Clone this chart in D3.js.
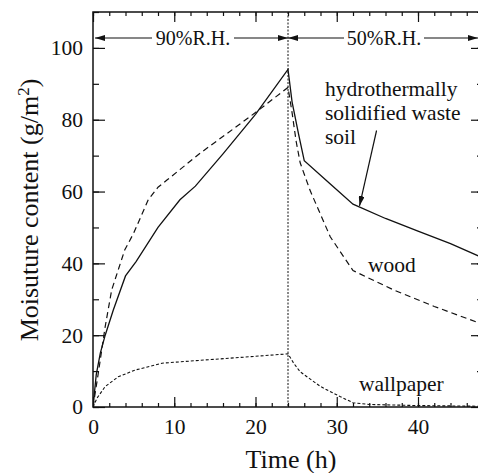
<!DOCTYPE html>
<html>
<head>
<meta charset="utf-8">
<script src="https://cdn.jsdelivr.net/npm/d3@7"></script>
<style>
body { margin: 0; background: #fff; }
text { font-family: "Liberation Serif", "Times New Roman", serif; fill: #111; }
</style>
</head>
<body>
<script>
// data (time in h, moisture in g/m2)
var soilTime  = [0, 0.4, 0.9, 1.5, 2.5, 4, 5.3, 8, 10.7, 12.6, 16, 20, 24, 24.5, 25.3, 26, 29, 32, 36, 40, 44, 48];
var soilValue = [0, 9, 15, 20, 27, 36.5, 40.5, 50, 57.7, 61.5, 70.5, 81.5, 94, 85, 76, 68.6, 62.5, 56.5, 52.5, 49, 45.5, 41.5];

var woodTime  = [0, 0.65, 1.5, 2.3, 3.9, 5, 6.8, 8, 9.1, 13.2, 17.3, 20, 24, 24.5, 25, 25.5, 26.7, 29.2, 32, 37, 42, 48];
var woodValue = [0, 9.4, 22.4, 32.6, 43.7, 48.4, 57.7, 61.2, 63.2, 70.7, 77.5, 82, 89, 82, 74, 68, 60.4, 47.4, 38, 32.6, 28, 23];

var paperTime  = [0, 0.5, 1.5, 3.1, 5.2, 8.5, 13.8, 18.1, 24, 24.7, 25.5, 28, 30.4, 32, 34, 40, 48];
var paperValue = [0, 2.5, 5.7, 8.4, 10.3, 12.2, 13.1, 13.8, 14.8, 12.2, 9.8, 5.7, 2.9, 1.2, 0.7, 0.4, 0.2];

var xMajorTicks = [0, 10, 20, 30, 40];
var yMajorTicks = [0, 20, 40, 60, 80, 100];
var switchTime = 24;

var width = 478, height = 473;
var padLeft = 93, padTop = 12, plotW = 390, plotH = 395;

var svg = d3.select("body").append("svg").attr("width", width).attr("height", height);

var xScale = d3.scaleLinear().domain([0, 48]).range([padLeft, padLeft + plotW]);
var yScale = d3.scaleLinear().domain([0, 110]).range([padTop + plotH, padTop]);

// arrow heads
var defs = svg.append("defs");
defs.append("marker").attr("id", "arr")
  .attr("viewBox", "0 0 10 6").attr("refX", 10).attr("refY", 3)
  .attr("markerWidth", 10).attr("markerHeight", 6).attr("markerUnits", "userSpaceOnUse")
  .attr("orient", "auto")
  .append("path").attr("d", "M0,0 L10,3 L0,6 Z").attr("fill", "#111");

// minor ticks (every 2h / every 10 g/m2) and major ticks, all pointing inward
var xMinor = d3.range(0, 49, 2);
var yMinor = d3.range(0, 111, 10);

svg.append("g").attr("transform", "translate(0," + (padTop + plotH) + ")")
  .call(d3.axisBottom(xScale).tickValues(xMinor).tickSize(-4).tickFormat(""));
svg.append("g").attr("transform", "translate(0," + padTop + ")")
  .call(d3.axisTop(xScale).tickValues(xMinor).tickSize(-4).tickFormat(""));
svg.append("g").attr("transform", "translate(" + padLeft + ",0)")
  .call(d3.axisLeft(yScale).tickValues(yMinor).tickSize(-6).tickFormat(""));
svg.append("g").attr("transform", "translate(" + (padLeft + plotW) + ",0)")
  .call(d3.axisRight(yScale).tickValues(yMinor).tickSize(-6).tickFormat(""));

var xAxis = svg.append("g").attr("transform", "translate(0," + (padTop + plotH) + ")")
  .call(d3.axisBottom(xScale).tickValues(xMajorTicks).tickSize(-10));
svg.append("g").attr("transform", "translate(0," + padTop + ")")
  .call(d3.axisTop(xScale).tickValues(xMajorTicks).tickSize(-10).tickFormat(""));
var yAxis = svg.append("g").attr("transform", "translate(" + padLeft + ",0)")
  .call(d3.axisLeft(yScale).tickValues(yMajorTicks).tickSize(-12));
svg.append("g").attr("transform", "translate(" + (padLeft + plotW) + ",0)")
  .call(d3.axisRight(yScale).tickValues(yMajorTicks).tickSize(-12).tickFormat(""));

svg.selectAll(".domain").remove();
svg.selectAll(".tick line").attr("stroke", "#111").attr("stroke-width", 1.2);
svg.selectAll(".tick text").attr("fill", "#111").style("font-size", "21.5px")
  .style("font-family", "'Liberation Serif', 'Times New Roman', serif");
// labels sit outside the frame, not at the inward tick end
xAxis.selectAll(".tick text").attr("y", 12);
yAxis.selectAll(".tick text").attr("x", -10);

// frame
svg.append("rect").attr("x", padLeft).attr("y", padTop).attr("width", plotW).attr("height", plotH)
  .attr("fill", "none").attr("stroke", "#111").attr("stroke-width", 1.5);

// vertical dotted line at humidity switch
svg.append("line")
  .attr("x1", xScale(switchTime)).attr("x2", xScale(switchTime))
  .attr("y1", padTop).attr("y2", padTop + plotH)
  .attr("stroke", "#111").attr("stroke-width", 1).attr("stroke-dasharray", "2,1.5");

// curves
function series(t, v) { return t.map(function(d, i) { return [d, v[i]]; }); }
var line = d3.line().x(function(d) { return xScale(d[0]); }).y(function(d) { return yScale(d[1]); });

var clip = defs.append("clipPath").attr("id", "plotclip");
clip.append("rect").attr("x", padLeft).attr("y", padTop).attr("width", plotW).attr("height", plotH);

var curves = svg.append("g").attr("clip-path", "url(#plotclip)");
curves.append("path").datum(series(soilTime, soilValue)).attr("d", line)
  .attr("fill", "none").attr("stroke", "#111").attr("stroke-width", 1.3);
curves.append("path").datum(series(woodTime, woodValue)).attr("d", line)
  .attr("fill", "none").attr("stroke", "#111").attr("stroke-width", 1.2).attr("stroke-dasharray", "6,4");
curves.append("path").datum(series(paperTime, paperValue)).attr("d", line)
  .attr("fill", "none").attr("stroke", "#111").attr("stroke-width", 1.1).attr("stroke-dasharray", "3,2");

// R.H. arrows along the top
var arrowY = 38;
svg.append("line").attr("x1", 152).attr("y1", arrowY).attr("x2", xScale(0) + 2).attr("y2", arrowY)
  .attr("stroke", "#111").attr("stroke-width", 1.2).attr("marker-end", "url(#arr)");
svg.append("line").attr("x1", 234).attr("y1", arrowY).attr("x2", xScale(switchTime)).attr("y2", arrowY)
  .attr("stroke", "#111").attr("stroke-width", 1.2).attr("marker-end", "url(#arr)");
svg.append("line").attr("x1", 344).attr("y1", arrowY).attr("x2", xScale(switchTime)).attr("y2", arrowY)
  .attr("stroke", "#111").attr("stroke-width", 1.2).attr("marker-end", "url(#arr)");
svg.append("line").attr("x1", 424).attr("y1", arrowY).attr("x2", 478).attr("y2", arrowY)
  .attr("stroke", "#111").attr("stroke-width", 1.2).attr("marker-end", "url(#arr)");

svg.append("text").attr("x", 193).attr("y", arrowY + 7).attr("text-anchor", "middle")
  .style("font-size", "20px").text("90%R.H.");
svg.append("text").attr("x", 384).attr("y", arrowY + 7).attr("text-anchor", "middle")
  .style("font-size", "20px").text("50%R.H.");

// series labels
var soilLabel = svg.append("text").attr("x", 325).attr("y", 96).style("font-size", "21.5px");
soilLabel.append("tspan").attr("x", 325).attr("dy", 0).text("hydrothermally");
soilLabel.append("tspan").attr("x", 325).attr("dy", 24).text("solidified waste");
soilLabel.append("tspan").attr("x", 325).attr("dy", 24).text("soil");

svg.append("line")
  .attr("x1", xScale(34.9)).attr("y1", yScale(77))
  .attr("x2", xScale(32.8)).attr("y2", yScale(56))
  .attr("stroke", "#111").attr("stroke-width", 1.2).attr("marker-end", "url(#arr)");

svg.append("text").attr("x", 368).attr("y", 272).style("font-size", "21.5px").text("wood");
svg.append("text").attr("x", 359).attr("y", 391).style("font-size", "21.5px").text("wallpaper");

// axis titles
svg.append("text").attr("x", 291).attr("y", 468).attr("text-anchor", "middle")
  .style("font-size", "26px").text("Time (h)");

var yTitle = svg.append("text")
  .attr("transform", "translate(38," + 210 + ") rotate(-90)")
  .attr("text-anchor", "middle").style("font-size", "26px");
yTitle.append("tspan").text("Moisuture content (g/m");
yTitle.append("tspan").attr("dy", -9).style("font-size", "17px").text("2");
yTitle.append("tspan").attr("dy", 9).text(")");
</script>
</body>
</html>
